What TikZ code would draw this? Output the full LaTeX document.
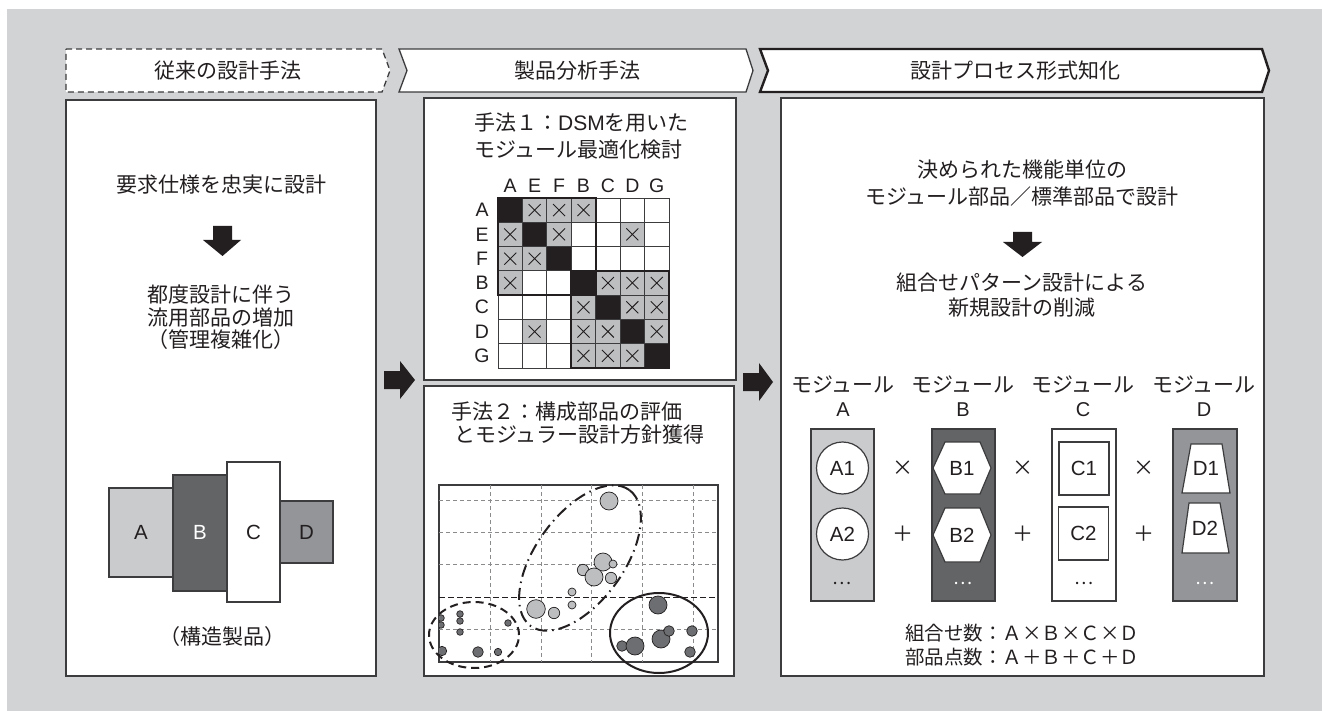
\documentclass[tikz,border=0pt]{standalone}
\usepackage{fontspec}
\setmainfont{Liberation Sans}
\newfontfamily\jp{Noto Sans CJK JP}
\definecolor{bg}{HTML}{D1D3D4}
\definecolor{ink}{HTML}{231F20}
\definecolor{frm}{HTML}{3C3C3E}
\definecolor{lgray}{HTML}{CACBCD}
\definecolor{dgray}{HTML}{636466}
\definecolor{mgray}{HTML}{939598}
\definecolor{cellg}{HTML}{BCBEC0}
\definecolor{gridg}{HTML}{8A8B8D}
\definecolor{dotl}{HTML}{BCBEC0}
\definecolor{dotd}{HTML}{6D6E71}
\tikzset{
  panel/.style={draw=frm, line width=1.3pt, fill=white},
  jtxt/.style={font=\jp\fontsize{21}{24}\selectfont, text=ink, inner sep=0pt, align=center},
  ltxt/.style={font=\fontsize{19.5}{21}\selectfont, text=ink, inner sep=0pt},
  mtxt/.style={font=\fontsize{20.5}{22}\selectfont, text=ink, inner sep=0pt},
  shp/.style={draw=frm, line width=1.2pt, fill=white},
  colbox/.style={draw=frm, line width=1.2pt},
  blkarrow/.style={fill=ink},
  gridl/.style={draw=gridg, line width=0.8pt, dash pattern=on 4pt off 3pt},
  dotL/.style={fill=dotl, draw=ink, line width=0.7pt},
  dotD/.style={fill=dotd, draw=ink, line width=0.7pt},
  cellbox/.style={draw=frm, line width=0.9pt},
}
\begin{document}
\begin{tikzpicture}[x=1pt,y=-1pt]
\path[use as bounding box] (0,0) rectangle (1322,711);
\fill[white] (0,0) rectangle (1322,711);
\fill[bg] (7,9) rectangle (1322,711);

% ---------- headers
\draw[fill=white, draw=frm, line width=1.3pt, dash pattern=on 6pt off 4pt]
  (66,49) -- (382,49) -- (390,70.5) -- (382,92) -- (66,92) -- cycle;
\draw[fill=white, draw=frm, line width=1.3pt]
  (399,49) -- (746,49) -- (753,70.5) -- (746,92) -- (399,92) -- (407,70.5) -- cycle;
\draw[fill=white, draw=ink, line width=2.4pt]
  (760,49) -- (1262,49) -- (1269,70.5) -- (1262,92) -- (760,92) -- (768,70.5) -- cycle;
\node[jtxt] (h1) at (228,70.5) {従来の設計手法};
\node[jtxt] (h2) at (577,70.5) {製品分析手法};
\node[jtxt] (h3) at (1015,70.5) {設計プロセス形式知化};

% ---------- left panel
\draw[panel] (66,100) rectangle (376,676);
\node[jtxt] (l1) at (221,185) {要求仕様を忠実に設計};
\fill[blkarrow] (213,226) -- (232,226) -- (232,240) -- (241,240) -- (222.5,256) -- (203,240) -- (213,240) -- cycle;
\node[jtxt, font=\jp\fontsize{21}{22.5}\selectfont] (l2) at (221,317.5) {都度設計に伴う\\流用部品の増加\\（管理複雑化）};
\draw[colbox, fill=lgray] (109,488) rectangle (173,577);
\draw[colbox, fill=dgray] (173,475) rectangle (227,591);
\draw[colbox, fill=mgray] (280,501) rectangle (333,563);
\draw[colbox, fill=white] (227,462) rectangle (280,602);
\node[mtxt] (bA) at (141,532) {A};
\node[mtxt, text=white] (bB) at (200,532) {B};
\node[mtxt] (bC) at (253.5,532) {C};
\node[mtxt] (bD) at (306.5,532) {D};
\node[jtxt] (l3) at (222,637) {（構造製品）};

% ---------- block arrows between panels
\fill[blkarrow] (384,371) -- (400,371) -- (400,361) -- (415,380) -- (400,399) -- (400,389) -- (384,389) -- cycle;
\fill[blkarrow] (743,373) -- (759,373) -- (759,363) -- (773,382) -- (759,401) -- (759,391) -- (743,391) -- cycle;

% ---------- middle top panel (DSM)
\draw[panel] (424,98) rectangle (736,380);
\node[jtxt, anchor=west] (m1) at (474,123) {手法１：{\rmfamily DSM}を用いた};
\node[jtxt, anchor=west] (m2) at (474,150) {モジュール最適化検討};
\foreach \row [count=\r from 0] in {{2,1,1,1,0,0,0},{1,2,1,0,0,1,0},{1,1,2,0,0,0,0},{1,0,0,2,1,1,1},{0,0,0,1,2,1,1},{0,1,0,1,1,2,1},{0,0,0,1,1,1,2}}{
  \foreach \v [count=\c from 0] in \row {
    \pgfmathsetmacro\xa{498+24.43*\c}
    \pgfmathsetmacro\ya{198+24.29*\r}
    \ifnum\v=0 \def\cf{white}\fi
    \ifnum\v=1 \def\cf{cellg}\fi
    \ifnum\v=2 \def\cf{ink}\fi
    \draw[cellbox, fill=\cf] (\xa,\ya) rectangle ++(24.43,24.29);
    \ifnum\v=1
      \draw[ink, line width=0.9pt] (\xa+6.2,\ya+6.1) -- ++(12,12) (\xa+6.2,\ya+18.1) -- ++(12,-12);
    \fi
  }
}
\draw[ink, line width=1.8pt] (498,198) rectangle (595.7,295.2);
\draw[ink, line width=1.8pt] (571.3,271) rectangle (669,368);
\foreach \l [count=\c from 0] in {A,E,F,B,C,D,G}{
  \node[ltxt] (col\l) at (510.2+24.43*\c,186) {\l};
  \node[ltxt] (row\l) at (482,210.1+24.29*\c) {\l};
}

% ---------- middle bottom panel (scatter)
\draw[panel] (424,386) rectangle (734,676);
\node[jtxt, anchor=west] (m3) at (451,412) {手法２：構成部品の評価};
\node[jtxt, anchor=west] (m4) at (454,435) {とモジュラー設計方針獲得};
\draw[draw=frm, line width=1.2pt, fill=white] (439,485) rectangle (718,662);
\foreach \x in {490,541,591,642,693} \draw[gridl] (\x,485) -- (\x,662);
\foreach \y in {500,532,564,629} \draw[gridl] (439,\y) -- (718,\y);
\draw[ink, line width=1pt, dash pattern=on 6pt off 3pt] (439,597) -- (718,597);
\begin{scope}
\clip (439,485) rectangle (718,662);
\foreach \x/\y/\rr in {609/501/9,603/562/9,613/564/4,583/570/5.7,594/577/9,611/578/5.7,572/592/4,572/605/4,536/609/9.3,554/613/5.7}
  \draw[dotL] (\x,\y) circle [radius=\rr*1pt];
\foreach \x/\y/\rr in {441/618/3.3,441/625/3.3,460/614/3.3,460/621/3.3,460/632/3.3,508/623/3.3,442/651/4.7,478/652/5.3,498/652/3.7,658/605/9,622/646/5.3,635/646/9,661/639/9,669/631/5.3,692/631/5.3,690/652/5.3}
  \draw[dotD] (\x,\y) circle [radius=\rr*1pt];
\end{scope}
\draw[ink, line width=2pt, dash pattern=on 8pt off 5pt] (474,635) ellipse [x radius=45pt, y radius=33pt];
\draw[ink, line width=2pt] (659,633) ellipse [x radius=49pt, y radius=40pt];
\draw[ink, line width=2pt, dash pattern=on 12pt off 5pt on 1.5pt off 5pt, rotate around={54:(580,558)}] (580,558) ellipse [x radius=84pt, y radius=44pt];

% ---------- right panel
\draw[panel] (781,98) rectangle (1264,676);
\node[jtxt, font=\jp\fontsize{21}{27}\selectfont] (r1) at (1022,183.5) {決められた機能単位の\\モジュール部品／標準部品で設計};
\fill[blkarrow] (1013,232) -- (1032,232) -- (1032,242) -- (1042,242) -- (1022.5,257) -- (1003,242) -- (1013,242) -- cycle;
\node[jtxt, font=\jp\fontsize{21}{25}\selectfont] (r2) at (1022,295) {組合せパターン設計による\\新規設計の削減};

\foreach \x/\l in {843/A,963/B,1083/C,1204/D}{
  \node[jtxt] (mod\l) at (\x,385) {モジュール};
  \node[ltxt, font=\fontsize{20}{22}\selectfont] (let\l) at (\x,410) {\l};
}
\draw[colbox, fill=lgray] (811,429) rectangle (874,601);
\draw[colbox, fill=dgray] (932,429) rectangle (995,601);
\draw[colbox, fill=white] (1052,429) rectangle (1116,601);
\draw[colbox, fill=mgray] (1173,429) rectangle (1237,601);

\node[shp, circle, minimum size=52pt, inner sep=0pt, mtxt] (A1) at (842.5,468) {A1};
\node[shp, circle, minimum size=52pt, inner sep=0pt, mtxt] (A2) at (842.5,534) {A2};
\draw[shp] (933,468) -- (945,442) -- (980,442) -- (991,468) -- (980,494) -- (945,494) -- cycle;
\draw[shp] (933,535) -- (945,508) -- (980,508) -- (991,535) -- (980,562) -- (945,562) -- cycle;
\node[mtxt] (B1) at (962,468) {B1};
\node[mtxt] (B2) at (962,535) {B2};
\node[shp, rectangle, minimum width=50pt, minimum height=53pt, inner sep=0pt, mtxt] (C1) at (1084,468.5) {C1};
\node[shp, rectangle, minimum width=50pt, minimum height=53pt, inner sep=0pt, mtxt] (C2) at (1083.5,533.5) {C2};
\draw[shp] (1191,444) -- (1222,444) -- (1230,493) -- (1182,493) -- cycle;
\draw[shp] (1189,503) -- (1220,503) -- (1229,553) -- (1182,553) -- cycle;
\node[mtxt] (D1) at (1206,468.5) {D1};
\node[mtxt] (D2) at (1205,528) {D2};

\node[jtxt] (op1) at (903,468) {×};
\node[jtxt] (op2) at (1023,468) {×};
\node[jtxt] (op3) at (1144,468) {×};
\node[jtxt] (op4) at (903,534) {＋};
\node[jtxt] (op5) at (1023,534) {＋};
\node[jtxt] (op6) at (1144,534) {＋};

\node[jtxt, font=\jp\fontsize{18}{20}\selectfont] (dA) at (842.5,583) {…};
\node[jtxt, font=\jp\fontsize{18}{20}\selectfont, text=white] (dB) at (963.5,583) {…};
\node[jtxt, font=\jp\fontsize{18}{20}\selectfont] (dC) at (1084,583) {…};
\node[jtxt, font=\jp\fontsize{18}{20}\selectfont, text=white] (dD) at (1205,583) {…};

\node[jtxt, font=\jp\fontsize{19.5}{24}\selectfont] (f1) at (1022,645) {組合せ数：Ａ×Ｂ×Ｃ×Ｄ\\部品点数：Ａ＋Ｂ＋Ｃ＋Ｄ};
\end{tikzpicture}
\end{document}
